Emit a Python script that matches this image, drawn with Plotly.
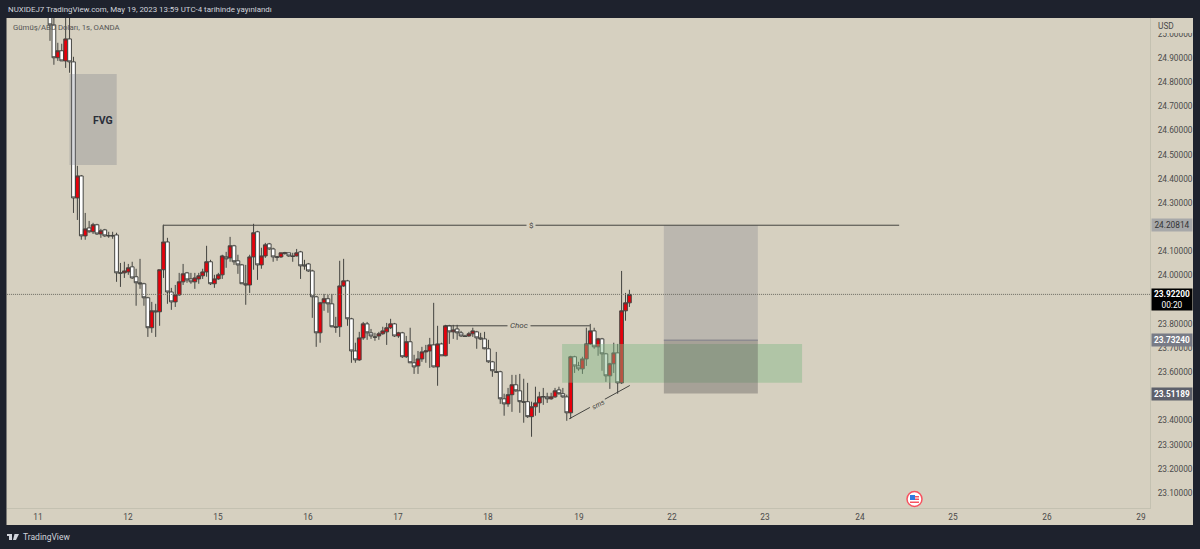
import plotly.graph_objects as go

# candle values, oldest first
opens = [25.10, 25.037, 24.901, 24.930, 24.888, 24.979, 24.884, 24.321, 24.412, 24.164,
         24.197, 24.181, 24.210, 24.172, 24.189, 24.164, 24.166, 24.168, 24.011, 24.011,
         24.015, 24.036, 23.995, 23.970, 23.966, 23.908, 23.784, 23.854, 23.850, 24.024,
         24.139, 23.932, 23.891, 23.920, 23.974, 24.011, 23.986, 23.974, 23.986, 23.999,
         24.015, 24.057, 23.966, 23.986, 24.003, 24.077, 24.073, 24.123, 24.061, 24.044,
         23.966, 23.961, 24.077, 24.181, 24.044, 24.081, 24.131, 24.110, 24.077, 24.077,
         24.092, 24.094, 24.081, 24.081, 24.098, 24.044, 24.048, 24.019, 23.912, 23.763,
         23.887, 23.904, 23.883, 23.788, 23.788, 23.957, 23.978, 23.821, 23.688, 23.651,
         23.742, 23.800, 23.763, 23.746, 23.750, 23.759, 23.767, 23.784, 23.800, 23.750,
         23.763, 23.664, 23.726, 23.639, 23.626, 23.655, 23.684, 23.688, 23.713, 23.622,
         23.717, 23.668, 23.792, 23.767, 23.779, 23.763, 23.750, 23.750, 23.759, 23.767,
         23.742, 23.738, 23.697, 23.643, 23.602, 23.602, 23.490, 23.469, 23.507, 23.548,
         23.523, 23.478, 23.478, 23.416, 23.457, 23.473, 23.498, 23.498, 23.490, 23.498,
         23.527, 23.511, 23.498, 23.432, 23.664, 23.626, 23.614, 23.655, 23.717, 23.771,
         23.705, 23.738, 23.676, 23.585, 23.635, 23.680, 23.556, 23.854, 23.887]
highs = [25.12, 25.10, 24.963, 24.959, 25.09, 25.070, 24.905, 24.454, 24.416, 24.259,
         24.226, 24.218, 24.214, 24.193, 24.193, 24.181, 24.181, 24.177, 24.052, 24.057,
         24.048, 24.057, 24.028, 24.069, 23.970, 23.912, 23.891, 23.883, 24.024, 24.210,
         24.156, 23.949, 23.961, 24.011, 24.048, 24.015, 24.011, 24.011, 24.011, 24.028,
         24.123, 24.065, 24.003, 24.011, 24.086, 24.098, 24.160, 24.127, 24.086, 24.048,
         24.044, 24.086, 24.214, 24.185, 24.115, 24.135, 24.135, 24.115, 24.081, 24.094,
         24.098, 24.094, 24.094, 24.110, 24.102, 24.065, 24.052, 24.024, 23.916, 23.891,
         23.924, 23.920, 23.924, 23.829, 24.061, 24.069, 23.982, 23.825, 23.722, 23.767,
         23.808, 23.808, 23.779, 23.763, 23.767, 23.788, 23.804, 23.821, 23.804, 23.767,
         23.767, 23.750, 23.784, 23.672, 23.688, 23.705, 23.713, 23.742, 23.887, 23.792,
         23.722, 23.796, 23.796, 23.796, 23.796, 23.771, 23.755, 23.767, 23.784, 23.771,
         23.763, 23.767, 23.734, 23.647, 23.684, 23.606, 23.511, 23.535, 23.589, 23.589,
         23.593, 23.573, 23.556, 23.478, 23.540, 23.519, 23.535, 23.515, 23.515, 23.535,
         23.540, 23.535, 23.507, 23.668, 23.668, 23.643, 23.664, 23.784, 23.800, 23.784,
         23.742, 23.742, 23.680, 23.639, 23.722, 23.717, 24.019, 23.928, 23.941]
lows = [24.971, 24.872, 24.888, 24.888, 24.859, 24.839, 24.259, 24.230, 24.148, 24.148,
        24.177, 24.172, 24.168, 24.156, 24.160, 24.156, 24.152, 23.974, 23.953, 23.990,
        24.003, 23.986, 23.875, 23.945, 23.875, 23.746, 23.763, 23.746, 23.792, 23.990,
        23.883, 23.858, 23.870, 23.916, 23.961, 23.970, 23.966, 23.945, 23.966, 23.986,
        23.995, 23.961, 23.949, 23.982, 23.986, 24.032, 24.057, 24.044, 24.007, 23.966,
        23.879, 23.928, 24.024, 23.982, 24.028, 24.073, 24.106, 24.057, 24.061, 24.073,
        24.086, 24.077, 24.057, 24.079, 23.986, 24.024, 24.015, 23.825, 23.705, 23.722,
        23.854, 23.846, 23.786, 23.763, 23.746, 23.953, 23.792, 23.639, 23.639, 23.647,
        23.734, 23.734, 23.738, 23.730, 23.734, 23.755, 23.713, 23.779, 23.746, 23.742,
        23.659, 23.659, 23.639, 23.593, 23.593, 23.643, 23.639, 23.618, 23.620, 23.544,
        23.668, 23.666, 23.717, 23.738, 23.734, 23.746, 23.746, 23.746, 23.746, 23.697,
        23.734, 23.695, 23.639, 23.581, 23.597, 23.469, 23.420, 23.457, 23.436, 23.519,
        23.432, 23.391, 23.411, 23.333, 23.420, 23.432, 23.465, 23.473, 23.486, 23.494,
        23.507, 23.494, 23.399, 23.407, 23.597, 23.606, 23.593, 23.626, 23.713, 23.697,
        23.668, 23.606, 23.560, 23.531, 23.597, 23.511, 23.552, 23.813, 23.870]
closes = [25.037, 24.901, 24.930, 24.888, 24.979, 24.884, 24.321, 24.412, 24.164, 24.193,
          24.181, 24.210, 24.172, 24.185, 24.164, 24.165, 24.164, 24.011, 24.010, 24.019,
          24.032, 23.990, 23.970, 23.966, 23.908, 23.784, 23.854, 23.850, 24.024, 24.139,
          23.932, 23.891, 23.920, 23.974, 24.007, 23.982, 23.974, 23.990, 23.999, 24.015,
          24.057, 23.966, 23.986, 24.003, 24.081, 24.069, 24.123, 24.057, 24.044, 23.966,
          23.961, 24.077, 24.177, 24.044, 24.081, 24.127, 24.110, 24.077, 24.076, 24.094,
          24.094, 24.081, 24.079, 24.094, 24.040, 24.040, 24.019, 23.912, 23.763, 23.887,
          23.904, 23.883, 23.788, 23.786, 23.957, 23.978, 23.821, 23.688, 23.651, 23.742,
          23.800, 23.763, 23.750, 23.745, 23.759, 23.771, 23.784, 23.800, 23.750, 23.763,
          23.664, 23.726, 23.639, 23.622, 23.655, 23.684, 23.688, 23.713, 23.622, 23.717,
          23.668, 23.792, 23.767, 23.775, 23.763, 23.750, 23.748, 23.759, 23.771, 23.742,
          23.738, 23.697, 23.643, 23.606, 23.600, 23.490, 23.469, 23.507, 23.548, 23.523,
          23.478, 23.476, 23.416, 23.457, 23.473, 23.498, 23.499, 23.490, 23.498, 23.523,
          23.511, 23.498, 23.432, 23.664, 23.626, 23.614, 23.655, 23.717, 23.771, 23.705,
          23.738, 23.676, 23.585, 23.635, 23.680, 23.556, 23.854, 23.887, 23.922]

day_ticks = [-3.07, 19.92, 42.91, 65.9, 88.89, 111.88, 135.12, 158.88, 182.63, 206.9, 230.65, 254.66, 278.67]
day_labels = ["11", "12", "15", "16", "17", "18", "19", "22", "23", "24", "25", "26", "29"]
# 24.2, 23.9 and 23.5 sit behind the price tags in the reference
price_ticks = [25.0, 24.9, 24.8, 24.7, 24.6, 24.5, 24.4, 24.3, 24.1, 24.0,
               23.8, 23.7, 23.6, 23.4, 23.3, 23.2, 23.1]

last_price = 23.922
liq_level = 24.20814
entry_level = 23.7324
stop_level = 23.51189

BG = "#d6d0c0"
DARK = "#1e222d"
INK = "#444440"
TICK_FONT = dict(family="Roboto", size=8.3, color="#4a4a4a")


def px_x(x):
    return (x - 7) / 1143


def px_y(y):
    return (508 - y) / 490


def rect_px(x0, y0, x1, y1, color, layer="above"):
    return dict(type="rect", xref="paper", yref="paper", x0=px_x(x0), x1=px_x(x1), y0=px_y(y0), y1=px_y(y1),
                fillcolor=color, line_width=0, layer=layer)


def line_data(x0, y0, x1, y1, color=INK, width=1, dash="solid"):
    return dict(type="line", x0=x0, x1=x1, y0=y0, y1=y1, line=dict(color=color, width=width, dash=dash))


def text_px(x, y, s, size=9, color="#d1d4dc", anchor="left", family="Roboto"):
    return dict(xref="paper", yref="paper", x=px_x(x), y=px_y(y), text=s, showarrow=False, xanchor=anchor,
                yanchor="middle", font=dict(family=family, size=size, color=color), borderpad=0)


def price_tag(price, s, bg, fg, height=12, shift=0):
    return dict(xref="paper", yref="y", x=px_x(1151), y=price, yshift=shift, text=s, showarrow=False, xanchor="left",
                yanchor="middle", width=40, height=height, bgcolor=bg, borderpad=0, align="center",
                font=dict(family="Roboto", size=8.3, color=fg))


fig = go.Figure(go.Candlestick(
    x=list(range(len(opens))), open=opens, high=highs, low=lows, close=closes,
    increasing=dict(fillcolor="#e8000b", line=dict(color=INK, width=1)),
    decreasing=dict(fillcolor="#ffffff", line=dict(color=INK, width=1)),
    whiskerwidth=0, hoverinfo="skip",
))

shapes = [
    # panel behind the axes, rest of the page is the dark frame
    rect_px(6.5, 18, 1193, 525, BG, layer="below"),
    # FVG box
    dict(type="rect", x0=4.98, x1=17.04, y0=24.457, y1=24.834, fillcolor="rgba(120,123,134,0.30)", line_width=0),
    # green zone
    dict(type="rect", x0=130.8, x1=192.1, y0=23.556, y1=23.717, fillcolor="rgba(130,185,135,0.45)", line_width=0),
    # position tool
    dict(type="rect", x0=156.8, x1=180.8, y0=entry_level, y1=liq_level, fillcolor="rgba(120,123,134,0.29)", line_width=0),
    dict(type="rect", x0=156.8, x1=180.8, y0=stop_level, y1=entry_level, fillcolor="rgba(95,90,90,0.40)", line_width=0),
    line_data(156.8, entry_level, 180.8, entry_level, color="#8d8b90", width=1.5),
    # last price
    line_data(-11, last_price, 281, last_price, color="#6b6b63", width=1, dash="1px,1px"),
    # liquidity line with its drop
    line_data(28.86, liq_level, 216.9, liq_level),
    line_data(28.86, liq_level, 28.86, 24.139, color="#6b6b63"),
    # choc and sms lines
    line_data(100.9, 23.792, 137.9, 23.792),
    line_data(132.6, 23.407, 148.1, 23.545),
    # usd corner, hides the top of the 25.00 label
    rect_px(1151, 18, 1192.5, 33, BG),
    # event flag
    dict(type="circle", xref="paper", yref="paper", x0=px_x(907), x1=px_x(922), y0=px_y(506.5), y1=px_y(491.5),
         fillcolor="#ffffff", line=dict(color="#f7525f", width=1.5)),
    rect_px(910, 495, 915, 500, "#2f7ae0"),
    rect_px(915, 496, 919, 497.5, "#f7525f"),
    rect_px(915, 498.5, 919, 500, "#f7525f"),
    rect_px(910, 501.5, 919, 503, "#f7525f"),
    # tradingview logo
    rect_px(7, 534, 12, 536, "#d1d4dc"),
    rect_px(9, 536, 12, 540, "#d1d4dc"),
    dict(type="path", xref="paper", yref="paper", fillcolor="#d1d4dc", line_width=0,
         path=f"M {px_x(14.5)} {px_y(534)} L {px_x(19)} {px_y(534)} L {px_x(16)} {px_y(540)} L {px_x(13)} {px_y(540)} Z"),
]

annotations = [
    text_px(6.5, 9, "NUXIDEJ7 TradingView.com, May 19, 2023 13:59 UTC-4 tarihinde yayınlandı", size=7.9),
    text_px(11.5, 27, "Gümüş/ABD Doları, 1s, OANDA", size=7.8, color="#555555"),
    text_px(22, 537, "TradingView", size=8.5),
    text_px(1157, 26, "USD", size=8.3, color="#4a4a4a"),
    dict(x=13.5, y=24.643, text="<b>FVG</b>", showarrow=False, font=dict(family="Roboto", size=10.5, color="#2a2e39")),
    dict(x=122.9, y=liq_level, text=" $ ", showarrow=False, bgcolor=BG, borderpad=0,
         font=dict(family="Roboto", size=8, color=INK)),
    dict(x=119.9, y=23.792, text=" <i>Choc</i> ", showarrow=False, bgcolor=BG, borderpad=0,
         font=dict(family="Roboto", size=8, color=INK)),
    dict(x=140.0, y=23.466, text=" <i>sms</i> ", showarrow=False, bgcolor=BG, borderpad=0, textangle=-28,
         font=dict(family="Roboto", size=7, color=INK)),
    price_tag(liq_level, "24.20814", "#a7a8a9", "#333333"),
    price_tag(last_price, "<b>23.92200</b><br>00:20", "#000000", "#ffffff", height=21, shift=-5),
    price_tag(entry_level, "<b>23.73240</b>", "#787b86", "#ffffff"),
    price_tag(stop_level, "<b>23.51189</b>", "#5d606b", "#ffffff"),
]

fig.update_layout(
    width=1200, height=549, autosize=False,
    margin=dict(l=7, r=50, t=18, b=41, pad=0),
    paper_bgcolor=DARK, plot_bgcolor=BG,
    boxgap=0.05, boxgroupgap=0,
    showlegend=False, shapes=shapes, annotations=annotations,
    xaxis=dict(range=[-10.98, 280.97], tickmode="array", tickvals=day_ticks, ticktext=day_labels,
               showgrid=False, zeroline=False, rangeslider=dict(visible=False), ticks="outside", ticklen=1,
               tickcolor="rgba(0,0,0,0)", tickfont=TICK_FONT, showline=True, linecolor="#c4c1b1", linewidth=1),
    yaxis=dict(range=[23.0382, 25.0655], side="right", tickmode="array", tickvals=price_ticks, tickformat=".5f",
               showgrid=False, zeroline=False, ticks="outside", ticklen=5, tickcolor="rgba(0,0,0,0)",
               tickfont=TICK_FONT, showline=True, linecolor="#c4c1b1", linewidth=1),
)

# page margin off, the chart has to sit at the window corner
fig.write_html("out.html", config={"displayModeBar": False},
               post_script="document.body.style.margin='0';document.body.style.background='#1e222d';")
